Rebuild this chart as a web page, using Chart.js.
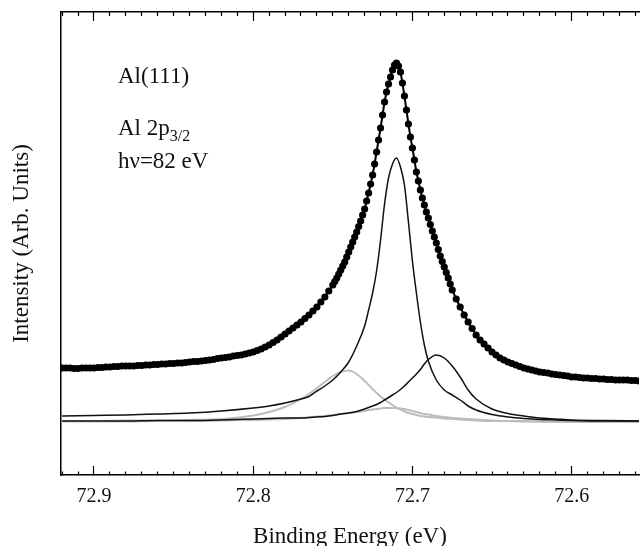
<!DOCTYPE html>
<html>
<head>
<meta charset="utf-8">
<title>Al 2p3/2 core level</title>
<script src="https://cdn.jsdelivr.net/npm/chart.js@4.4.1/dist/chart.umd.min.js"></script>
<style>
  html, body { margin: 0; padding: 0; background: #fff; overflow: hidden; }
  #chart { display: block; }
</style>
</head>
<body>
<canvas id="chart" width="643" height="546"></canvas>
<script>
// measured points (binding energy in eV, intensity in arb. units)
var dotEnergy = [
    72.92, 72.9175, 72.915, 72.9125, 72.91, 72.9075, 72.905, 72.9025, 72.9, 72.8975,
    72.895, 72.8925, 72.89, 72.8875, 72.885, 72.8825, 72.88, 72.8775, 72.875, 72.8725,
    72.87, 72.8675, 72.865, 72.8625, 72.86, 72.8575, 72.855, 72.8525, 72.85, 72.8475,
    72.845, 72.8425, 72.84, 72.8375, 72.835, 72.8325, 72.83, 72.8275, 72.825, 72.8225,
    72.82, 72.8175, 72.815, 72.8125, 72.81, 72.8075, 72.805, 72.8025, 72.8, 72.7975,
    72.795, 72.7925, 72.79, 72.7875, 72.785, 72.7825, 72.78, 72.7775, 72.775, 72.7725,
    72.77, 72.7675, 72.765, 72.7625, 72.76, 72.7575, 72.755, 72.7525,
    // peak region, denser
    72.75, 72.74875, 72.7475, 72.74625, 72.745, 72.74375, 72.7425, 72.74125, 72.74, 72.73875,
    72.7375, 72.73625, 72.735, 72.73375, 72.7325, 72.73125, 72.73, 72.72875, 72.7275, 72.72625,
    72.725, 72.72375, 72.7225, 72.72125, 72.72, 72.71875, 72.7175, 72.71625, 72.715, 72.71375,
    72.7125, 72.71125, 72.71, 72.70875, 72.7075, 72.70625, 72.705, 72.70375, 72.7025, 72.70125,
    72.7, 72.69875, 72.6975, 72.69625, 72.695, 72.69375, 72.6925, 72.69125, 72.69, 72.68875,
    72.6875, 72.68625, 72.685, 72.68375, 72.6825, 72.68125, 72.68, 72.67875, 72.6775, 72.67625,
    72.675,
    72.6725, 72.67, 72.6675, 72.665, 72.6625, 72.66, 72.6575, 72.655, 72.6525, 72.65,
    72.6475, 72.645, 72.6425, 72.64, 72.6375, 72.635, 72.6325, 72.63, 72.6275, 72.625,
    72.6225, 72.62, 72.6175, 72.615, 72.6125, 72.61, 72.6075, 72.605, 72.6025, 72.6,
    72.5975, 72.595, 72.5925, 72.59, 72.5875, 72.585, 72.5825, 72.58, 72.5775, 72.575,
    72.5725, 72.57, 72.5675, 72.565, 72.5625, 72.56, 72.5575, 72.555
];
var dotIntensity = [
    107, 107, 107, 106.5, 106.5, 107, 107, 107, 107, 107.5,
    107.5, 108, 108, 108.5, 108.5, 109, 109, 109, 109, 109.5,
    109.5, 110, 110, 110.5, 110.5, 111, 111, 111.5, 111.5, 112,
    112, 112.5, 113, 113.5, 113.5, 114, 114.5, 115, 115.5, 116.5,
    117, 117.5, 118, 119, 119.5, 120, 121, 122, 123, 124.5,
    126, 128, 130, 132.5, 135, 138, 141, 144, 147, 150,
    153, 156.5, 160, 164, 168, 173, 178, 184,
    190, 193.5, 197, 201, 205, 209, 213, 218, 223, 228,
    233, 238, 243, 248.5, 254, 260, 266, 274, 282, 291,
    300, 311, 323, 335, 347, 360, 373, 383, 391, 398,
    405, 410, 412, 409, 403, 392, 379, 365, 351, 338,
    327, 315, 303, 294, 285, 277, 270, 263, 257, 250.5,
    244, 238, 232, 225.5, 219, 213.5, 208, 202.5, 197, 191,
    185,
    176, 168, 160, 153, 146.5, 140, 135, 131, 127, 123,
    120, 117, 115, 113, 111.5, 110, 108.5, 107, 106, 105,
    104, 103, 102.5, 102, 101, 100.5, 100, 99.5, 99, 98,
    98, 97.5, 97, 97, 96.5, 96.5, 96, 96, 95.5, 95.5,
    95, 95, 95, 95, 94.5, 94.5, 94, 94
];

// fitted components, shared energy grid
var fitEnergy = [
    72.92, 72.90, 72.88, 72.86, 72.84, 72.82, 72.80, 72.79, 72.78, 72.77,
    72.765, 72.76, 72.755, 72.75, 72.745, 72.74, 72.735, 72.73, 72.7275, 72.725,
    72.7225, 72.72, 72.7175, 72.715, 72.7125, 72.71, 72.7075, 72.705, 72.7025, 72.70,
    72.6975, 72.695, 72.6925, 72.69, 72.685, 72.68, 72.675, 72.67, 72.665, 72.66,
    72.65, 72.64, 72.63, 72.62, 72.61, 72.60, 72.58, 72.555
];
var bulkPeak = [
    59, 59.5, 60, 61, 62, 64, 67, 69, 72, 76,
    78.5, 84, 89, 95, 103, 113, 129, 149, 165, 182,
    204, 235, 271, 297, 311, 317, 308, 290, 253, 214,
    182, 153, 130, 114, 95, 85, 80, 75, 69, 65,
    60.5, 58, 56.5, 55.5, 55, 54.5, 54, 54
];
var surfacePeak = [
    54, 54, 54, 54.5, 54.5, 55, 56, 56.5, 57, 57,
    57.5, 58, 58.5, 59.5, 61, 62, 63.5, 66, 67.5, 69,
    70.5, 72.5, 75, 77.5, 80, 82.5, 85.5, 89, 93, 97,
    101, 105.5, 111, 115.5, 120, 117, 109, 98, 85, 76,
    66, 61.5, 59, 57, 56, 55, 54.5, 54
];
var grayPeakA = [
    54, 54, 54.5, 54.5, 55, 56, 59.5, 63, 68, 76,
    81, 87, 93, 99, 103, 104.5, 101, 94, 90, 86,
    82, 78.5, 75.5, 72.5, 70, 67.5, 65.5, 63.5, 62, 61,
    60, 59, 58.5, 58, 57.5, 56.5, 56, 55.5, 55, 54.5,
    54, 54, 53.5, 53.5, 53, 53, 53, 53
];
var grayPeakB = [
    53.5, 53.5, 53.5, 54, 54, 54.5, 55, 55.5, 56, 57,
    57.5, 58.5, 59, 60, 61, 62, 63, 64, 65, 65.5,
    66, 66.5, 67, 67, 67, 67, 66.5, 66, 65, 64,
    63, 62, 61, 60.5, 59, 58, 57, 56.5, 56, 55.5,
    54.5, 54, 54, 53.5, 53.5, 53.5, 53, 53
];

var energyMax = 72.9207;
var energyMin = 72.5577;
var intensityMax = 463;

function pairs(xs, ys) {
    var out = [];
    for (var i = 0; i < xs.length; i++) {
        out.push({ x: xs[i], y: ys[i] });
    }
    return out;
}

function isMajor(v) {
    return Math.round(v * 100) % 10 === 0;
}

var serif = '"Liberation Serif", "Times New Roman", serif';

// text block in the upper left corner
var sampleText = {
    id: 'sampleText',
    afterDraw: function(chart) {
        var ctx = chart.ctx;
        var x = chart.chartArea.left + 57;
        ctx.save();
        ctx.fillStyle = '#111';
        ctx.textBaseline = 'alphabetic';
        ctx.font = '23px ' + serif;
        ctx.fillText('Al(111)', x, 83);
        ctx.fillText('Al 2p', x, 135);
        var w = ctx.measureText('Al 2p').width;
        ctx.fillText('h\u03bd=82 eV', x, 168);
        ctx.font = '16px ' + serif;
        ctx.fillText('3/2', x + w, 141);
        ctx.restore();
    }
};

var minorDashBottom = function(c) { return isMajor(c.tick.value) ? [] : [4, 40]; };
var minorDashTop = function(c) { return isMajor(c.tick.value) ? [] : [0, 5, 4, 40]; };

// keep the plot flush with the right edge, no label padding
function fitX(height) {
    return function(scale) {
        scale.height = height;
        scale.paddingLeft = 0;
        scale.paddingRight = 0;
    };
}

new Chart(document.getElementById('chart'), {
    type: 'line',
    data: {
        datasets: [{
            label: 'data',
            data: pairs(dotEnergy, dotIntensity),
            borderColor: '#000',
            borderWidth: 2,
            pointRadius: 3.6,
            pointBackgroundColor: '#000',
            pointBorderWidth: 0,
            tension: 0
        }, {
            label: 'bulk',
            data: pairs(fitEnergy, bulkPeak),
            borderColor: '#111',
            borderWidth: 1.5,
            pointRadius: 0,
            cubicInterpolationMode: 'monotone'
        }, {
            label: 'surface',
            data: pairs(fitEnergy, surfacePeak),
            borderColor: '#111',
            borderWidth: 1.5,
            pointRadius: 0,
            cubicInterpolationMode: 'monotone'
        }, {
            label: 'gray A',
            data: pairs(fitEnergy, grayPeakA),
            borderColor: '#bdbdbd',
            borderWidth: 2,
            pointRadius: 0,
            cubicInterpolationMode: 'monotone'
        }, {
            label: 'gray B',
            data: pairs(fitEnergy, grayPeakB),
            borderColor: '#bdbdbd',
            borderWidth: 2,
            pointRadius: 0,
            cubicInterpolationMode: 'monotone'
        }]
    },
    options: {
        responsive: false,
        animation: false,
        devicePixelRatio: 1,
        layout: { padding: { top: 12, left: 0, right: 0, bottom: 0 } },
        plugins: {
            legend: { display: false },
            tooltip: { enabled: false }
        },
        scales: {
            x: {
                type: 'linear',
                position: 'bottom',
                reverse: true,
                min: energyMin,
                max: energyMax,
                afterFit: fitX(71),
                border: { display: true, color: '#000', width: 1.5 },
                grid: {
                    drawOnChartArea: false,
                    tickLength: -9,
                    tickColor: '#000',
                    tickWidth: 1.2,
                    tickBorderDash: minorDashBottom
                },
                ticks: {
                    stepSize: 0.01,
                    includeBounds: false,
                    autoSkip: false,
                    maxRotation: 0,
                    padding: 19,
                    color: '#111',
                    font: { family: serif, size: 20 },
                    callback: function(v) { return isMajor(v) ? v.toFixed(1) : ''; }
                },
                title: {
                    display: true,
                    text: 'Binding Energy (eV)',
                    color: '#111',
                    padding: 0,
                    font: { family: serif, size: 23, lineHeight: 0.75 }
                }
            },
            xTop: {
                type: 'linear',
                position: 'top',
                reverse: true,
                min: energyMin,
                max: energyMax,
                afterFit: fitX(0),
                border: { display: true, color: '#000', width: 1.5 },
                grid: {
                    drawOnChartArea: false,
                    tickLength: -9,
                    tickColor: '#000',
                    tickWidth: 1.2,
                    tickBorderDash: minorDashTop
                },
                ticks: {
                    display: false,
                    stepSize: 0.01,
                    includeBounds: false,
                    autoSkip: false
                }
            },
            y: {
                type: 'linear',
                position: 'left',
                min: 0,
                max: intensityMax,
                afterFit: function(scale) { scale.width = 61; },
                border: { display: true, color: '#000', width: 1.5 },
                grid: { display: false },
                ticks: { display: false },
                title: {
                    display: true,
                    text: 'Intensity (Arb. Units)',
                    color: '#111',
                    padding: { top: 8, bottom: 0 },
                    font: { family: serif, size: 23, lineHeight: 1.2 }
                }
            }
        }
    },
    plugins: [sampleText]
});
</script>
</body>
</html>
